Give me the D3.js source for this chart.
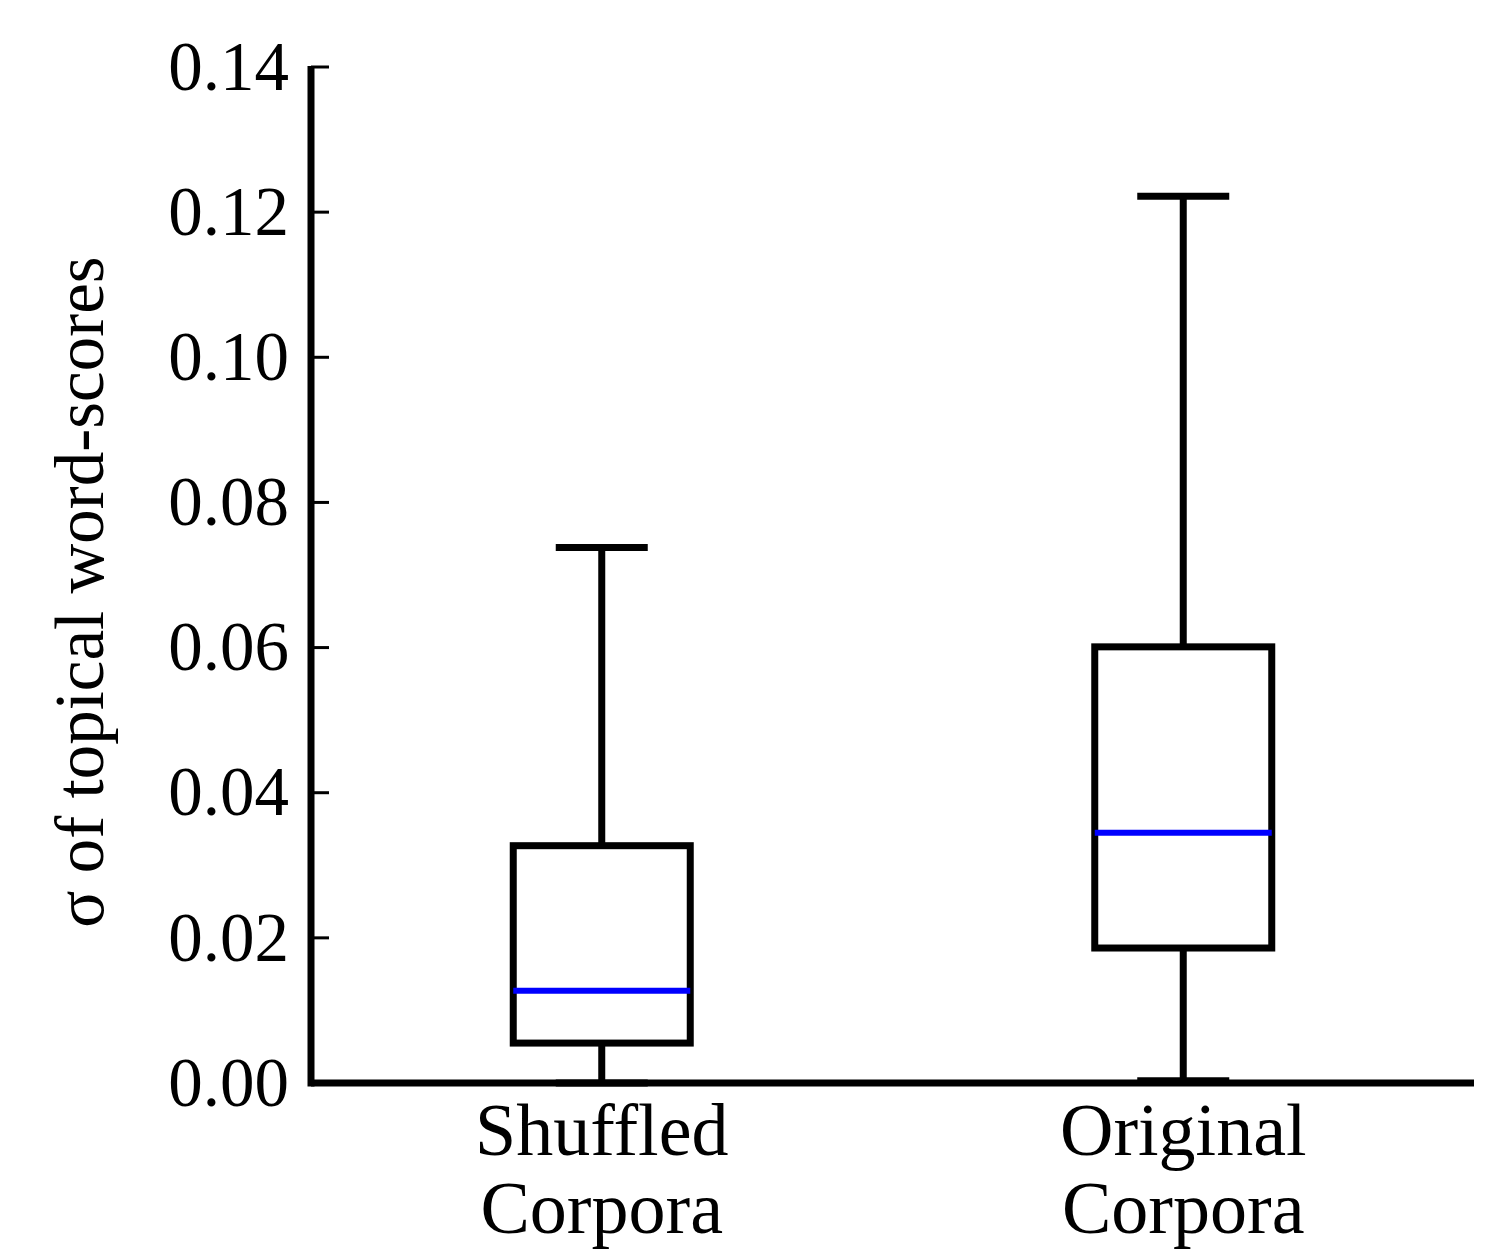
<!DOCTYPE html>
<html>
<head>
<meta charset="utf-8">
<script src="https://cdn.jsdelivr.net/npm/d3@7"></script>
<style>
  body { margin: 0; background: #fff; }
  text { font-family: "Liberation Serif", "DejaVu Serif", serif; fill: #000; }
</style>
</head>
<body>
<svg id="chart" width="1506" height="1252"></svg>
<script>
// box stats
const groups = ["Shuffled\nCorpora", "Original\nCorpora"];
const whiskerLow = [0.0, 0.0003];
const q1 = [0.0055, 0.0186];
const median = [0.0127, 0.0345];
const q3 = [0.0327, 0.0601];
const whiskerHigh = [0.0738, 0.1222];
const yTicks = [0.00, 0.02, 0.04, 0.06, 0.08, 0.10, 0.12, 0.14];
const yLabel = "σ of topical word-scores";

const margin = {top: 67, right: 32, bottom: 169, left: 311};
const width = 1506 - margin.left - margin.right;
const height = 1252 - margin.top - margin.bottom;

const svg = d3.select("#chart");
const g = svg.append("g").attr("transform", `translate(${margin.left},${margin.top})`);

const boxes = groups.map((name, i) => ({
  name, lo: whiskerLow[i], q1: q1[i], med: median[i], q3: q3[i], hi: whiskerHigh[i]
}));

const x = d3.scaleBand().domain(groups).range([0, width]).padding(0);
const y = d3.scaleLinear().domain([0, 0.14]).range([height, 0]);

const boxW = 177, capW = 92, lw = 7;

// y axis ticks + labels
const yAxis = g.append("g");
yAxis.selectAll("line.tick")
    .data(yTicks)
  .join("line")
    .attr("class", "tick")
    .attr("x1", 0).attr("x2", 18)
    .attr("y1", d => y(d)).attr("y2", d => y(d))
    .attr("stroke", "#000").attr("stroke-width", 3);
yAxis.selectAll("text")
    .data(yTicks)
  .join("text")
    .attr("x", -22)
    .attr("y", d => y(d))
    .attr("dy", "0.33em")
    .attr("text-anchor", "end")
    .style("font-size", "69px")
    .text(d => d3.format(".2f")(d));

// boxes
const bg = g.selectAll(".box")
    .data(boxes)
  .join("g")
    .attr("class", "box")
    .attr("transform", d => `translate(${x(d.name) + x.bandwidth() / 2},0)`);

bg.append("line") // upper whisker
    .attr("x1", 0).attr("x2", 0)
    .attr("y1", d => y(d.q3)).attr("y2", d => y(d.hi))
    .attr("stroke", "#000").attr("stroke-width", lw);
bg.append("line") // lower whisker
    .attr("x1", 0).attr("x2", 0)
    .attr("y1", d => y(d.q1)).attr("y2", d => y(d.lo))
    .attr("stroke", "#000").attr("stroke-width", lw);
bg.append("line")
    .attr("x1", -capW / 2).attr("x2", capW / 2)
    .attr("y1", d => y(d.hi)).attr("y2", d => y(d.hi))
    .attr("stroke", "#000").attr("stroke-width", lw);
bg.append("line")
    .attr("x1", -capW / 2).attr("x2", capW / 2)
    .attr("y1", d => y(d.lo)).attr("y2", d => y(d.lo))
    .attr("stroke", "#000").attr("stroke-width", lw);
bg.append("rect")
    .attr("x", -boxW / 2).attr("width", boxW)
    .attr("y", d => y(d.q3))
    .attr("height", d => y(d.q1) - y(d.q3))
    .attr("fill", "#fff")
    .attr("stroke", "#000").attr("stroke-width", lw);
bg.append("line")
    .attr("x1", -boxW / 2).attr("x2", boxW / 2)
    .attr("y1", d => y(d.med)).attr("y2", d => y(d.med))
    .attr("stroke", "#0000ff").attr("stroke-width", 6);

// axis lines on top
g.append("line")
    .attr("x1", 0).attr("x2", width)
    .attr("y1", height).attr("y2", height)
    .attr("stroke", "#000").attr("stroke-width", lw);
g.append("line")
    .attr("x1", 0).attr("x2", 0)
    .attr("y1", -1).attr("y2", height + lw / 2)
    .attr("stroke", "#000").attr("stroke-width", lw);

// x labels, two lines each
const xl = g.selectAll(".xlab")
    .data(groups)
  .join("text")
    .attr("class", "xlab")
    .attr("text-anchor", "middle")
    .style("font-size", "74px")
    .attr("transform", d => `translate(${x(d) + x.bandwidth() / 2},${height + 72})`);
xl.selectAll("tspan")
    .data(d => d.split("\n"))
  .join("tspan")
    .attr("x", 0)
    .attr("y", (d, i) => i * 78)
    .text(d => d);

// y label
svg.append("text")
    .attr("transform", `translate(103,${margin.top + height / 2 + 17}) rotate(-90)`)
    .attr("text-anchor", "middle")
    .style("font-size", "69px")
    .text(yLabel);
</script>
</body>
</html>
